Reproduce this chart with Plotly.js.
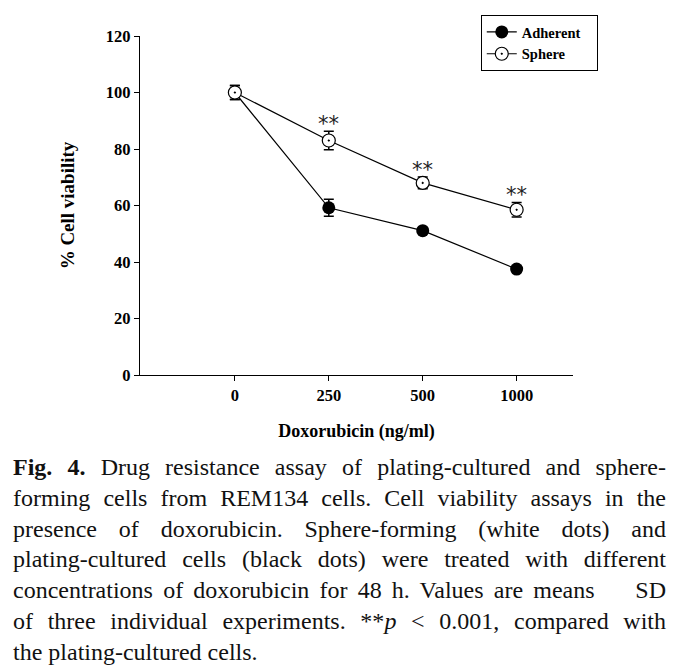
<!DOCTYPE html>
<html lang="en">
<head>
    <meta charset="UTF-8">
    <title>Doxorubicin cell viability</title>
    <script src="https://cdn.plot.ly/plotly-3.0.1.min.js"></script>
    <style>
        body {
            margin: 0;
            background: white;
            width: 682px;
            height: 666px;
            position: relative;
            overflow: hidden;
        }
        #plot {
            position: absolute;
            left: 0;
            top: 0;
            width: 682px;
            height: 450px;
        }
        #caption {
            position: absolute;
            left: 13px;
            top: 452px;
            width: 653px;
            font-family: "Liberation Serif", "Times New Roman", serif;
            font-size: 24px;
            line-height: 30.8px;
            color: #111;
        }
        #caption div {
            white-space: nowrap;
            text-align: justify;
            text-align-last: justify;
        }
        #caption div.last {
            text-align: left;
            text-align-last: left;
        }
    </style>
</head>
<body>
    <div id="plot"></div>
    <div id="caption">
        <div><b>Fig. 4.</b> Drug resistance assay of plating-cultured and sphere-</div>
        <div>forming cells from REM134 cells. Cell viability assays in the</div>
        <div>presence of doxorubicin. Sphere-forming (white dots) and</div>
        <div>plating-cultured cells (black dots) were treated with different</div>
        <div>concentrations of doxorubicin for 48 h. Values are means &nbsp;&nbsp; SD</div>
        <div>of three individual experiments. **<i>p</i>&nbsp;&lt;&nbsp;0.001, compared with</div>
        <div class="last">the plating-cultured cells.</div>
    </div>

    <script>
        // doses (ng/ml), shown as evenly spaced categories
        const doses = ['0', '250', '500', '1000'];
        const adherent = [100, 59.2, 51.1, 37.5];
        const adherentSD = [2.5, 3, 1, 1];
        const sphere = [100, 83, 68, 58.5];
        const sphereSD = [2.5, 3.3, 2.1, 2.6];
        const signif = ['', '**', '**', '**'];

        const xs = doses.map((d, i) => i);
        const serif = '"Liberation Serif", "Times New Roman", serif';

        const adherentTrace = {
            x: xs,
            y: adherent,
            type: 'scatter',
            mode: 'lines+markers',
            name: '<b>Adherent</b>&nbsp;&nbsp;&nbsp;',
            line: { color: 'black', width: 1.2 },
            marker: { color: 'black', size: 13, symbol: 'circle' },
            error_y: { type: 'data', array: adherentSD, visible: true, color: 'black', thickness: 1.5, width: 5 }
        };

        const sphereTrace = {
            x: xs,
            y: sphere,
            type: 'scatter',
            mode: 'lines+markers',
            name: '<b>Sphere</b>',
            line: { color: 'black', width: 1.2 },
            marker: { color: 'white', size: 13, symbol: 'circle-dot', line: { color: 'black', width: 1.2 } },
            error_y: { type: 'data', array: sphereSD, visible: true, color: 'black', thickness: 1.5, width: 5 }
        };

        // significance stars above the sphere error bars
        const annotations = [];
        signif.forEach((s, i) => {
            if (!s) return;
            annotations.push({
                x: xs[i],
                y: sphere[i] + sphereSD[i],
                xref: 'x', yref: 'y',
                text: s,
                showarrow: false,
                yanchor: 'bottom',
                yshift: -7,
                font: { family: '"DejaVu Sans", sans-serif', size: 21, color: '#222' }
            });
        });

        const layout = {
            width: 682,
            height: 450,
            margin: { l: 140, r: 109, t: 36, b: 75 },
            paper_bgcolor: 'white',
            plot_bgcolor: 'white',
            showlegend: true,
            legend: {
                x: 0.787, y: 1.062,
                xanchor: 'left', yanchor: 'top',
                bgcolor: 'white',
                bordercolor: 'black',
                borderwidth: 1,
                font: { family: serif, size: 14.5, color: 'black' },
                tracegroupgap: 0,
                itemwidth: 30
            },
            xaxis: {
                range: [-1.01, 3.6],
                tickvals: xs,
                ticktext: doses.map(d => '<b>' + d + '</b>'),
                showgrid: false,
                zeroline: false,
                showline: true,
                linecolor: 'black',
                linewidth: 1.2,
                ticks: 'outside',
                ticklen: 5,
                tickcolor: 'black',
                tickfont: { family: serif, size: 16.5, color: 'black' },
                title: { text: '<b>Doxorubicin (ng/ml)</b>', font: { family: serif, size: 18, color: 'black' }, standoff: 20 }
            },
            yaxis: {
                range: [0, 120],
                tickvals: [0, 20, 40, 60, 80, 100, 120],
                ticktext: ['<b>0</b>', '<b>20</b>', '<b>40</b>', '<b>60</b>', '<b>80</b>', '<b>100</b>', '<b>120</b>'],
                showgrid: false,
                zeroline: false,
                showline: true,
                linecolor: 'black',
                linewidth: 1.2,
                ticks: 'outside',
                ticklen: 5,
                tickcolor: 'black',
                tickfont: { family: serif, size: 16.5, color: 'black' },
                title: { text: '<b>% Cell viability</b>', font: { family: serif, size: 19, color: 'black' }, standoff: 26 }
            },
            annotations: annotations
        };

        Plotly.newPlot('plot', [adherentTrace, sphereTrace], layout, { displayModeBar: false, staticPlot: true });
    </script>
</body>
</html>
